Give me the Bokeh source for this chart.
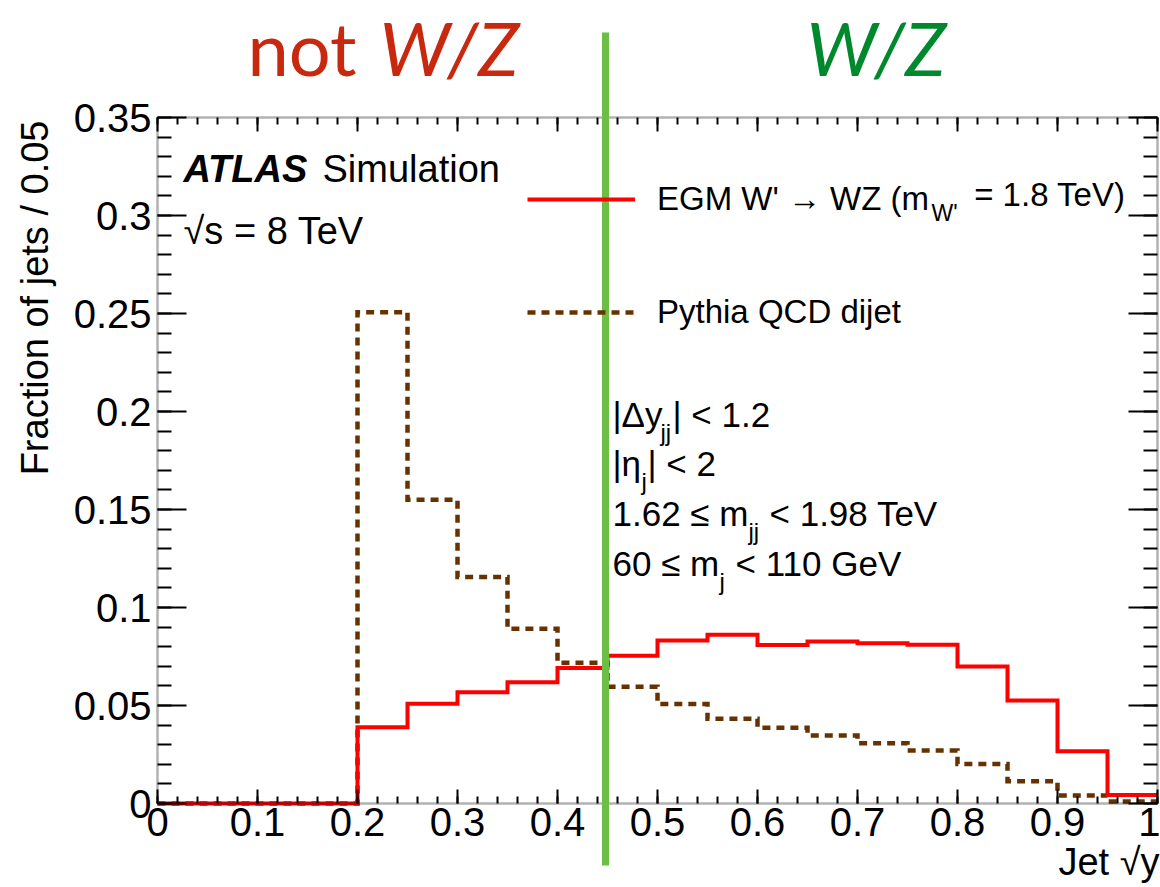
from bokeh.plotting import figure
from bokeh.models import (Range1d, LinearAxis, FixedTicker, NumeralTickFormatter,
                          Label, Legend, LegendItem, BoxAnnotation, CustomJSTickFormatter)
from bokeh.embed import file_html
from bokeh.resources import INLINE

# ---------------- data ----------------
bin_edges = [0.0, 0.05, 0.1, 0.15, 0.2, 0.25, 0.3, 0.35, 0.4, 0.45, 0.5,
             0.55, 0.6, 0.65, 0.7, 0.75, 0.8, 0.85, 0.9, 0.95, 1.0]
wprime_frac = [0, 0, 0, 0, 0.0389, 0.0509, 0.0568, 0.0619, 0.0691, 0.0754,
               0.0831, 0.0861, 0.0809, 0.0826, 0.0817, 0.0810, 0.0699, 0.0526,
               0.0266, 0.0044]
qcd_frac = [0, 0, 0, 0, 0.2507, 0.1550, 0.1155, 0.0891, 0.0718, 0.0596,
            0.0508, 0.0432, 0.0386, 0.0347, 0.0308, 0.0270, 0.0202, 0.0114,
            0.0041, 0.0010]
x_ticks = [0.0, 0.1, 0.2, 0.3, 0.4, 0.5, 0.6, 0.7, 0.8, 0.9, 1.0]
y_ticks = [0.0, 0.05, 0.1, 0.15, 0.2, 0.25, 0.3, 0.35]
wz_cut = 0.448
series_labels = ["EGM W' \u2192 WZ (m", "Pythia QCD dijet"]

# ---------------- layout constants (canvas px) ----------------
W, H = 1160, 887
FL, FR, FT, FB = 157, 1157, 117, 803      # visual frame edges on canvas
X0, X1, Y0, Y1 = 0.0, 1.0, 0.0, 0.35
xs = (FR - FL) / (X1 - X0)
ys = (FB - FT) / (Y1 - Y0)
x_range = Range1d(X0 - FL / xs, X1 + (W - FR) / xs)
y_range = Range1d(Y0 - (H - FB) / ys, Y1 + FT / ys)
BL = 0.4   # empirical baseline correction (fraction of font size)


def sx(cx):
    return cx


def sy(cy):
    return H - cy


p = figure(width=W, height=H, x_range=x_range, y_range=y_range,
           output_backend="svg", toolbar_location=None,
           x_axis_location=None, y_axis_location=None,
           min_border=0)
p.grid.grid_line_color = None
p.outline_line_color = None
p.background_fill_color = "white"
p.border_fill_color = "white"

FONT = "Liberation Sans"

minor_x = [i * 0.02 for i in range(51)]
minor_y = [i * 0.01 for i in range(36)]


def make_axis(ticks, minor, formatter, major_in, minor_in, loc):
    ax = LinearAxis(ticker=FixedTicker(ticks=ticks, minor_ticks=minor),
                    formatter=formatter, fixed_location=loc)
    ax.major_tick_in = major_in
    ax.major_tick_out = 0
    ax.minor_tick_in = minor_in
    ax.minor_tick_out = 0
    ax.axis_line_color = None
    ax.major_tick_line_width = 2
    ax.minor_tick_line_width = 2
    ax.major_label_text_font = FONT
    ax.major_label_text_font_size = "40px"
    ax.major_label_text_color = "black"
    return ax


blank = CustomJSTickFormatter(code="return ''")

xb = make_axis(x_ticks, minor_x, NumeralTickFormatter(format="0.[0]"), 14, 7, Y0)
xb.major_label_standoff = 4
p.add_layout(xb, "below")

yl = make_axis(y_ticks, minor_y, NumeralTickFormatter(format="0.[00]"), 29, 14, X0)
yl.major_label_standoff = 6
p.add_layout(yl, "left")

xt = make_axis(x_ticks, minor_x, blank, 14, 7, Y1)
xt.major_label_standoff = 0
xt.major_label_text_font_size = "1px"
p.add_layout(xt, "above")

yr = make_axis(y_ticks, minor_y, blank, 29, 14, X1)
yr.major_label_standoff = 0
yr.major_label_text_font_size = "1px"
p.add_layout(yr, "right")

# frame box
p.add_layout(BoxAnnotation(left=X0, right=X1, bottom=Y0, top=Y1, fill_alpha=0,
                           line_color="black", line_width=2.5, level="overlay"))

# ---------------- histograms ----------------
BROWN = "#663300"
RED = "#ff0000"
qcd_y = qcd_frac + [qcd_frac[-1]]
wp_y = wprime_frac + [wprime_frac[-1]]
r_qcd = p.step(bin_edges, qcd_y, mode="after", line_color=BROWN, line_width=4.5,
               line_dash="8 6", line_join="miter")
r_wp = p.step(bin_edges, wp_y, mode="after", line_color=RED, line_width=4,
              line_join="miter")

# ---------------- legend ----------------
leg = Legend(items=[LegendItem(label=series_labels[0], renderers=[r_wp]),
                    LegendItem(label=series_labels[1], renderers=[r_qcd])],
             location=(sx(527), sy(332)), orientation="vertical",
             glyph_width=108, glyph_height=40, label_height=40, spacing=73,
             padding=0, margin=0, label_standoff=22,
             label_text_font=FONT, label_text_font_size="33px",
             label_text_color="black", label_text_baseline="alphabetic",
             border_line_color=None, background_fill_alpha=0)
p.add_layout(leg)


def lab(text, cx, cy, size, color="black", font=FONT, style="normal", align="left",
        angle=0):
    # (cx, cy): intended baseline position on the canvas
    if angle:
        x, y = sx(cx - BL * size), sy(cy)
    else:
        x, y = sx(cx), sy(cy - BL * size)
    p.add_layout(Label(x=x, y=y, x_units="screen", y_units="screen",
                       text=text, text_font=font, text_font_size=f"{size}px",
                       text_color=color, text_font_style=style, text_align=align,
                       text_baseline="alphabetic", angle=angle))


# subscript & rest of first legend entry
lab("W'", 931, 222, 23)
lab("= 1.8 TeV)", 1125, 207, 33, align="right")

# ATLAS label
lab("ATLAS", 183, 184, 38, style="bold italic")
lab("Simulation", 322, 184, 38)
lab("\u221as = 8 TeV", 183, 246, 38)

# selection cuts
CS, SS = 35, 24
lab("|\u0394y", 612, 428, CS)
lab("jj", 660, 442, SS)
lab("| < 1.2", 672, 428, CS)
lab("|\u03b7", 612, 477, CS)
lab("j", 641, 491, SS)
lab("| < 2", 647, 477, CS)
lab("1.62 \u2264 m", 612, 527, CS)
lab("jj", 748, 541, SS)
lab("< 1.98 TeV", 769, 527, CS)
lab("60 \u2264 m", 612, 577, CS)
lab("j", 719, 591, SS)
lab("< 110 GeV", 735, 577, CS)

# axis titles
lab("Fraction of jets / 0.05", 50, 120, 38, align="right", angle=1.5707963)
lab("Jet \u221ay", 1159, 877, 38, align="right")

# region headers
HS = 74
lab("not", 247, 77, HS, color="#c8280e", font="Lato")
lab("W/Z", 379, 77, HS, color="#c8280e", font="Lato", style="italic")
lab("W/Z", 806, 77, HS, color="#00892c", font="Lato", style="italic")

# W/Z separation line
p.add_layout(BoxAnnotation(left=wz_cut - 0.0035, right=wz_cut + 0.0035,
                           top=sy(32), bottom=sy(865), top_units="screen",
                           bottom_units="screen", fill_color="#6dbe45",
                           fill_alpha=1.0, line_color=None, level="overlay"))

open("out.html", "w").write(file_html(p, INLINE))
